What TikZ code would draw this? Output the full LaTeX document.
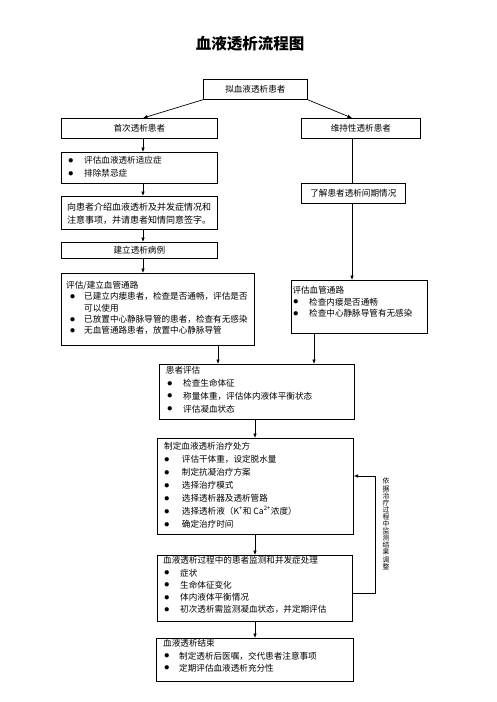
\documentclass[tikz,border=0pt]{standalone}
\usepackage{fontspec}
\setmainfont{Noto Sans CJK SC}
\usetikzlibrary{arrows.meta}
\newcommand\bl[3]{\hspace*{#1pt}\makebox[#2pt][l]{\raisebox{0.4pt}{\fontsize{10.8}{10}\selectfont$\bullet$}}#3}
\begin{document}
\begin{tikzpicture}[x=1pt,y=-1pt,
  box/.style={draw, line width=0.7pt, inner sep=0pt, anchor=north west},
  lbl/.style={font=\fontsize{8.6}{10}\selectfont},
  txt/.style={inner sep=0pt, anchor=north west, align=left},
  arr/.style={line width=0.7pt, -{Latex[length=4.5pt,width=3.6pt]}},
  ln/.style={line width=0.7pt}]
\path[use as bounding box] (0,0) rectangle (496,702);

\node[font=\fontsize{15.5}{18}\selectfont\bfseries] (title) at (250,43.5) {血液透析流程图};

% boxes
\node[box, lbl, minimum width=104pt, minimum height=20pt] (start) at (203,79) {拟血液透析患者};
\node[box, lbl, minimum width=156pt, minimum height=20pt] (first) at (61,118) {首次透析患者};
\node[box, lbl, minimum width=119pt, minimum height=20pt] (maint) at (301,118) {维持性透析患者};
\node[box, minimum width=156pt, minimum height=31pt] (assess1) at (61,152) {};
\node[box, minimum width=156pt, minimum height=33pt] (intro) at (61,196) {};
\node[box, lbl, minimum width=156pt, minimum height=16pt] (record) at (61,242) {建立透析病例};
\node[box, minimum width=193pt, minimum height=72pt] (access1) at (61,273) {};
\node[box, lbl, minimum width=104pt, minimum height=20pt] (dialinfo) at (301,183) {了解患者透析间期情况};
\node[box, minimum width=136pt, minimum height=53pt] (access2) at (291,280) {};
\node[box, minimum width=195pt, minimum height=55pt] (eval) at (159,364) {};
\node[box, minimum width=196pt, minimum height=96pt] (rx) at (157,438) {};
\node[box, minimum width=195pt, minimum height=66pt] (monitor) at (157,555) {};
\node[box, minimum width=197pt, minimum height=43pt] (end) at (156,638) {};

% texts
\node[txt, font=\fontsize{8.6}{13}\selectfont] (t-assess1) at (67.85,156.2)
  {\bl{0}{16.15}{评估血液透析适应症}\\\bl{0}{16.15}{排除禁忌症}};
\node[txt, font=\fontsize{9}{13.3}\selectfont] (t-intro) at (67,202.7)
  {向患者介绍血液透析及并发症情况和\\注意事项，并请患者知情同意签字。};
\node[txt, font=\fontsize{8.6}{11.3}\selectfont] (t-access1) at (66,281.2)
  {评估/建立血管通路\\
   \bl{3.55}{14.45}{已建立内瘘患者，检查是否通畅，评估是否}\\
   \hspace*{18pt}可以使用\\
   \bl{3.55}{14.45}{已放置中心静脉导管的患者，检查有无感染}\\
   \bl{3.55}{14.45}{无血管通路患者，放置中心静脉导管}};
\node[txt, font=\fontsize{8.6}{11.5}\selectfont] (t-access2) at (292.3,286.2)
  {评估血管通路\\
   \bl{0.55}{16.15}{检查内瘘是否通畅}\\
   \bl{0.55}{16.15}{检查中心静脉导管有无感染}};
\node[txt, font=\fontsize{8.6}{12.8}\selectfont] (t-eval) at (165.7,366.2)
  {患者评估\\
   \bl{1.15}{16.15}{检查生命体征}\\
   \bl{1.15}{16.15}{称量体重，评估体内液体平衡状态}\\
   \bl{1.15}{16.15}{评估凝血状态}};
\node[txt, font=\fontsize{8.6}{13.05}\selectfont] (t-rx) at (164,441.9)
  {制定血液透析治疗处方\\
   \bl{0}{17.7}{评估干体重，设定脱水量}\\
   \bl{0}{17.7}{制定抗凝治疗方案}\\
   \bl{0}{17.7}{选择治疗模式}\\
   \bl{0}{17.7}{选择透析器及透析管路}\\
   \bl{0}{17.7}{选择透析液（K\textsuperscript{+}和 Ca\textsuperscript{2+}浓度）}\\
   \bl{0}{17.7}{确定治疗时间}};
\node[txt, font=\fontsize{8.6}{12.25}\selectfont] (t-monitor) at (163,556.4)
  {血液透析过程中的患者监测和并发症处理\\
   \bl{0.85}{16.15}{症状}\\
   \bl{0.85}{16.15}{生命体征变化}\\
   \bl{0.85}{16.15}{体内液体平衡情况}\\
   \bl{0.85}{16.15}{初次透析需监测凝血状态，并定期评估}};
\node[txt, font=\fontsize{8.6}{12.2}\selectfont] (t-end) at (163,639.5)
  {血液透析结束\\
   \bl{0.85}{15.15}{制定透析后医嘱，交代患者注意事项}\\
   \bl{0.85}{15.15}{定期评估血液透析充分性}};

\node[font=\fontsize{6.8}{7.1}\selectfont, align=center, inner sep=0pt, anchor=north] (fbtext) at (386,478)
  {依\\据\\治\\疗\\过\\程\\中\\监\\测\\结\\果\\调\\整};

% helper coordinates
\coordinate (cL) at (143,0);
\coordinate (cR) at (352,0);
\coordinate (cA) at (218,0);
\coordinate (cB) at (314,0);
\coordinate (cM) at (255,0);
\coordinate (fb1) at (375,593);
\coordinate (fb2) at (375,476);

% connectors
\draw[arr] (start.south west) -- (first.north -| cL);
\draw[arr] (start.south east) -- (maint.north -| cR);
\draw[arr] (first.south -| cL) -- (assess1.north -| cL);
\draw[arr] (assess1.south -| cL) -- (intro.north -| cL);
\draw[arr] (intro.south -| cL) -- (record.north -| cL);
\draw[arr] (record.south -| cL) -- (access1.north -| cL);
\draw[ln] (maint.south -| cR) -- (dialinfo.north -| cR);
\draw[arr] (dialinfo.south -| cR) -- (access2.north -| cR);
\draw[arr] (access1.south -| cA) -- (eval.north -| cA);
\draw[arr] (access2.south -| cB) -- (eval.north -| cB);
\draw[arr] (eval.south -| cM) -- (rx.north -| cM);
\draw[arr] (rx.south -| cM) -- (monitor.north -| cM);
\draw[arr] (monitor.south -| cM) -- (end.north -| cM);
\draw[arr] (fb1 -| monitor.east) -- (fb1) -- (fb2) -- (fb2 -| rx.east);
\end{tikzpicture}
\end{document}
